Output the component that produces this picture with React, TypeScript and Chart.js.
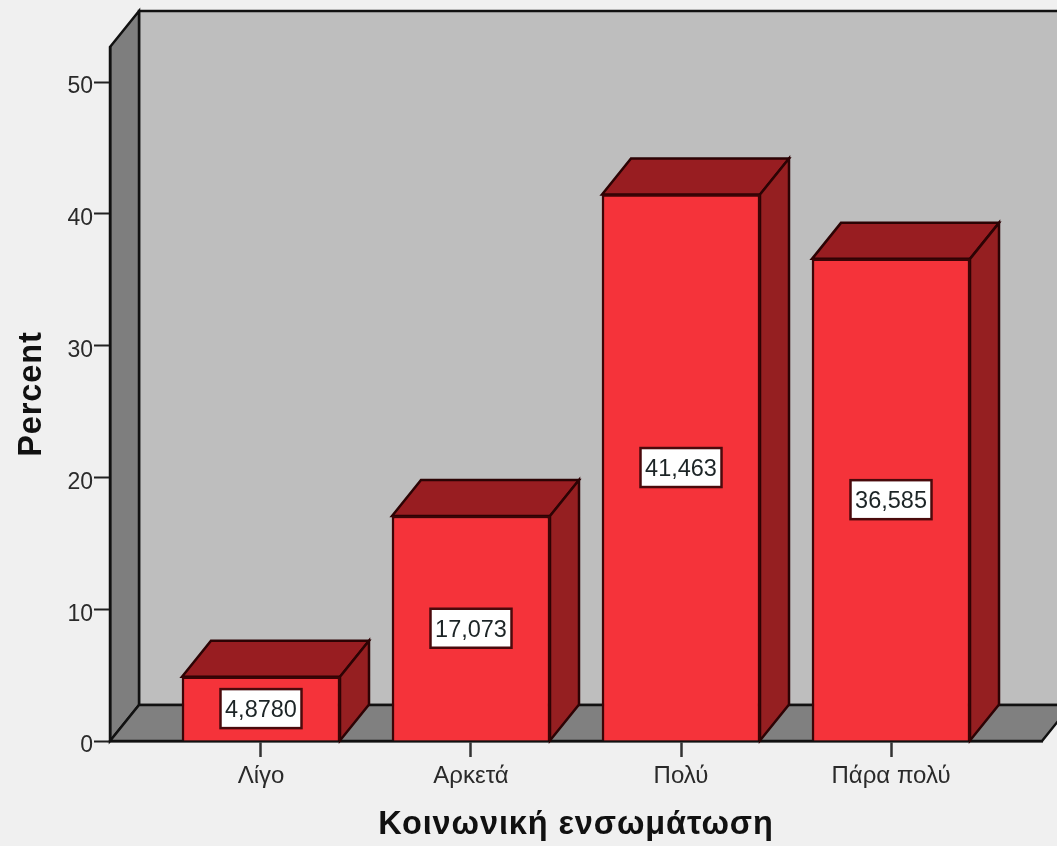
import React, { useEffect, useRef } from "react";
import { Chart, registerables } from "chart.js";

Chart.register(...registerables);

const categories = ["Λίγο", "Αρκετά", "Πολύ", "Πάρα πολύ"];
const percentValues = [4.878, 17.073, 41.463, 36.585];
const valueLabels = ["4,8780", "17,073", "41,463", "36,585"];
const xAxisTitle = "Κοινωνική ενσωμάτωση";
const yAxisTitle = "Percent";

const DEPTH_X = 29;
const DEPTH_Y = 36;
const TICK_FONT = "Liberation Sans";
const TITLE_SPACING = "0.9px";

const room3d = {
  id: "room3d",
  afterLayout(chart: any) {
    // Axis titles in the reference are slightly letter-spaced.
    Object.values(chart.scales).forEach((scale: any) => {
      if (scale.__spaced) return;
      const original = scale.drawTitle;
      scale.drawTitle = function () {
        this.ctx.letterSpacing = TITLE_SPACING;
        original.call(this);
        this.ctx.letterSpacing = "0px";
      };
      scale.__spaced = true;
    });
  },
  beforeDraw(chart: any) {
    const { ctx, chartArea: a, width, height } = chart;
    ctx.save();
    ctx.fillStyle = "#f0f0f0";
    ctx.fillRect(0, 0, width, height);
    ctx.lineWidth = 2.5;
    ctx.lineJoin = "miter";
    ctx.strokeStyle = "#111";
    const poly = (pts: number[][], fill: string) => {
      ctx.beginPath();
      pts.forEach((p, i) => (i ? ctx.lineTo(p[0], p[1]) : ctx.moveTo(p[0], p[1])));
      ctx.closePath();
      ctx.fillStyle = fill;
      ctx.fill();
      ctx.stroke();
    };
    const bx = a.left + DEPTH_X;
    const tb = a.top - DEPTH_Y;
    const fb = a.bottom - DEPTH_Y;
    poly([[bx, tb], [width + 40, tb], [width + 40, fb], [bx, fb]], "#bebebe");
    poly([[a.left, a.top], [bx, tb], [bx, fb], [a.left, a.bottom]], "#7e7e7e");
    poly([[a.left, a.bottom], [bx, fb], [a.right + DEPTH_X, fb], [a.right, a.bottom]], "#808080");
    ctx.restore();
  },
  beforeDatasetsDraw(chart: any) {
    const { ctx } = chart;
    const meta = chart.getDatasetMeta(0);
    ctx.save();
    ctx.lineWidth = 2.5;
    ctx.lineJoin = "miter";
    ctx.strokeStyle = "#2c0304";
    meta.data.forEach((bar: any) => {
      const l = bar.x - bar.width / 2;
      const r = bar.x + bar.width / 2;
      const t = bar.y;
      const b = bar.base;
      ctx.beginPath();
      ctx.moveTo(l, t);
      ctx.lineTo(l + DEPTH_X, t - DEPTH_Y);
      ctx.lineTo(r + DEPTH_X, t - DEPTH_Y);
      ctx.lineTo(r, t);
      ctx.closePath();
      ctx.fillStyle = "#981d21";
      ctx.fill();
      ctx.stroke();
      ctx.beginPath();
      ctx.moveTo(r, t);
      ctx.lineTo(r + DEPTH_X, t - DEPTH_Y);
      ctx.lineTo(r + DEPTH_X, b - DEPTH_Y);
      ctx.lineTo(r, b);
      ctx.closePath();
      ctx.fillStyle = "#951f21";
      ctx.fill();
      ctx.stroke();
    });
    ctx.restore();
  },
  afterDatasetsDraw(chart: any) {
    const { ctx } = chart;
    const meta = chart.getDatasetMeta(0);
    ctx.save();
    ctx.font = `23.5px "${TICK_FONT}"`;
    ctx.textAlign = "center";
    ctx.textBaseline = "middle";
    meta.data.forEach((bar: any, i: number) => {
      const cx = bar.x;
      const cy = (bar.y + bar.base) / 2;
      const w = 81;
      const h = 39;
      ctx.fillStyle = "#ffffff";
      ctx.fillRect(cx - w / 2, cy - h / 2, w, h);
      ctx.lineWidth = 2.5;
      ctx.strokeStyle = "#4a0a0c";
      ctx.strokeRect(cx - w / 2, cy - h / 2, w, h);
      ctx.fillStyle = "#1c2426";
      ctx.fillText(valueLabels[i], cx, cy + 2);
    });
    ctx.restore();
  },
};

export default function App() {
  const ref = useRef<HTMLCanvasElement | null>(null);
  useEffect(() => {
    const chart = new Chart(ref.current as HTMLCanvasElement, {
      type: "bar",
      data: {
        datasets: [
          {
            data: percentValues.map((y, x) => ({ x, y })),
            backgroundColor: "#f5333a",
            borderColor: "#3c0406",
            borderWidth: 2.5,
            barThickness: 158,
          },
        ],
      },
      options: {
        responsive: false,
        animation: false,
        layout: { padding: { top: 47, right: 15, left: 0, bottom: 0 } },
        plugins: { legend: { display: false }, tooltip: { enabled: false } },
        scales: {
          x: {
            type: "linear",
            offset: false,
            min: -0.719,
            max: 3.719,
            afterFit(scale: any) {
              scale.height = 105;
            },
            afterBuildTicks(scale: any) {
              scale.ticks = categories.map((_, value) => ({ value }));
            },
            grid: {
              offset: false,
              drawOnChartArea: false,
              drawTicks: true,
              tickLength: 16,
              tickColor: "#333",
              tickWidth: 2.5,
            },
            border: { display: true, color: "#111", width: 2.5 },
            ticks: {
              autoSkip: false,
              maxRotation: 0,
              padding: 5,
              color: "#2a2a2a",
              font: { family: TICK_FONT, size: 24 },
              callback: (v: any) => categories[v],
            },
            title: {
              display: true,
              text: xAxisTitle,
              color: "#111",
              font: { family: TICK_FONT, size: 32.5, weight: "bold" },
              padding: { top: 0, bottom: 1 },
            },
          },
          y: {
            type: "linear",
            min: 0,
            max: 52.66,
            afterFit(scale: any) {
              scale.width = 110;
            },
            grid: {
              drawOnChartArea: false,
              drawTicks: true,
              tickLength: 16,
              tickColor: "#222",
              tickWidth: 2,
            },
            border: { display: true, color: "#111", width: 2.5 },
            ticks: {
              stepSize: 10,
              includeBounds: false,
              padding: 1,
              labelOffset: 5,
              color: "#2a2a2a",
              font: { family: TICK_FONT, size: 23 },
            },
            title: {
              display: true,
              text: yAxisTitle,
              color: "#111",
              font: { family: TICK_FONT, size: 32.5, weight: "bold" },
              padding: { top: 13, bottom: 0 },
            },
          },
        },
      },
      plugins: [room3d],
    } as any);
    return () => chart.destroy();
  }, []);
  return (
    <div style={{ position: "absolute", left: 0, top: 0, width: 1057, height: 846, overflow: "hidden", background: "#f0f0f0" }}>
      <canvas ref={ref} width={1057} height={846} style={{ display: "block", filter: "blur(0.5px)" }} />
    </div>
  );
}
